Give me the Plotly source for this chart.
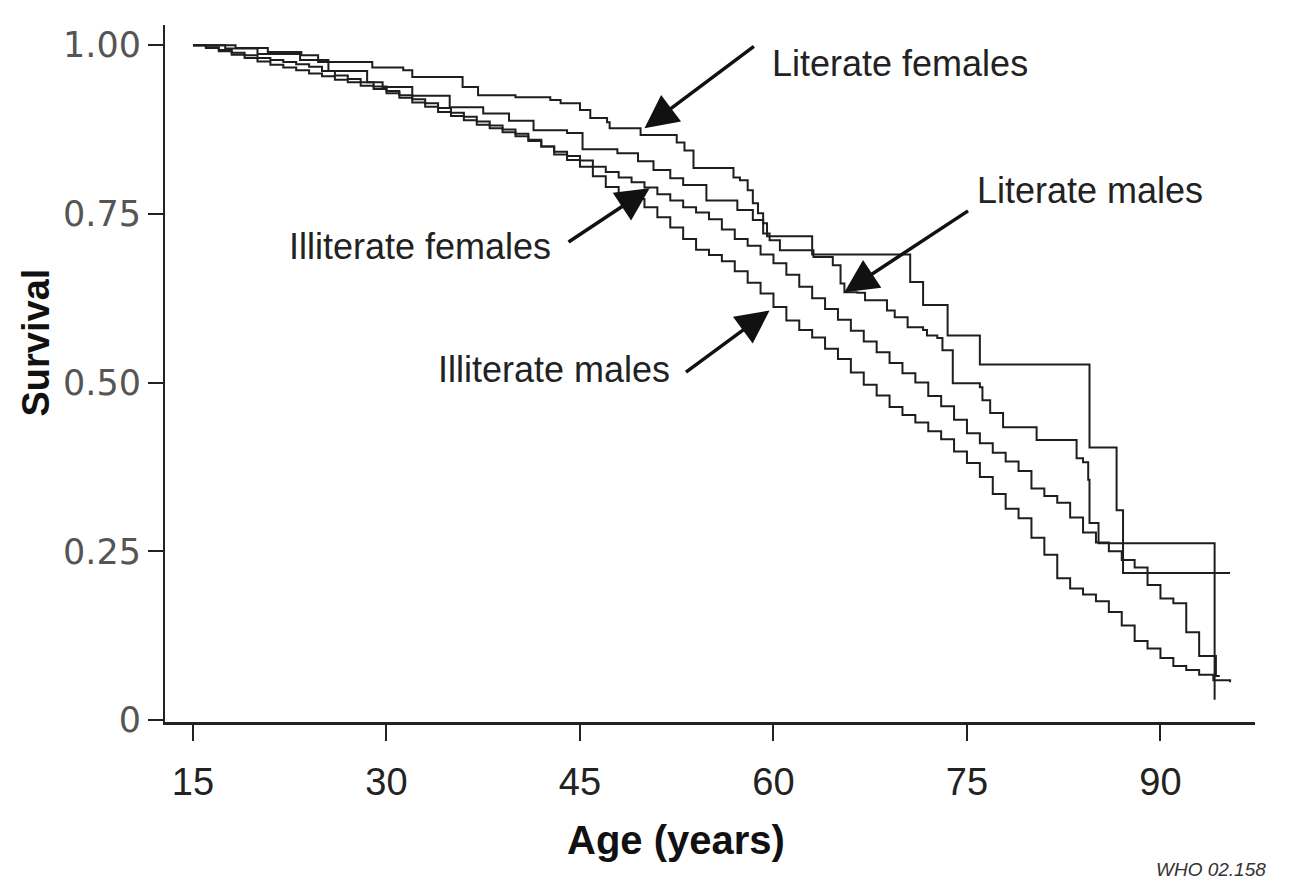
import plotly.graph_objects as go

# ---- data (age in years, survival proportion) ----
lit_f_age = [15, 18.3, 20.8, 23.4, 24.7, 28.9, 31.3, 32.0, 35.9, 37.1, 40.0, 42.7, 43.5, 45.0,
             45.8, 47.1, 47.3, 49.7, 52.5, 53.1, 53.8, 56.9, 57.4, 58.0, 58.4, 58.8, 59.2, 59.5,
             63.0, 70.6, 71.6, 73.5, 76.0, 84.5, 86.6, 87.1, 95.4]
lit_f_surv = [1.000, 0.996, 0.990, 0.985, 0.975, 0.967, 0.963, 0.953, 0.938, 0.926, 0.923, 0.919,
              0.914, 0.904, 0.892, 0.886, 0.877, 0.867, 0.856, 0.844, 0.818, 0.804, 0.800, 0.785,
              0.766, 0.751, 0.736, 0.717, 0.690, 0.649, 0.615, 0.570, 0.527, 0.404, 0.311, 0.218,
              0.218]

lit_m_age = [15, 17.5, 20, 23.3, 25.5, 28.5, 29.7, 32, 34.9, 37.5, 39.5, 41.4, 44.0, 45.2, 47.9,
             49.5, 50.7, 52, 53.0, 54.8, 57.2, 58.4, 59.2, 59.7, 60.5, 63.1, 64.6, 65.2, 65.5,
             66.5, 67.1, 68.8, 69.4, 70.4, 71.6, 71.9, 72.7, 73.1, 73.9, 76.0, 76.2, 76.8, 77.8,
             80.4, 83.5, 84.0, 84.4, 84.5, 85.2, 94.2]
lit_m_surv = [1.000, 0.995, 0.987, 0.978, 0.962, 0.945, 0.938, 0.925, 0.908, 0.899, 0.888, 0.874,
              0.870, 0.846, 0.840, 0.828, 0.815, 0.803, 0.793, 0.770, 0.756, 0.741, 0.721, 0.711,
              0.696, 0.686, 0.674, 0.647, 0.634, 0.633, 0.622, 0.607, 0.597, 0.582, 0.578, 0.570,
              0.566, 0.548, 0.499, 0.493, 0.474, 0.455, 0.434, 0.415, 0.388, 0.382, 0.356, 0.292,
              0.262, 0.030]

illit_f_age = [15, 16, 17, 18, 19, 20, 21, 22, 23, 24, 25, 26, 27, 28, 29, 30, 31, 32, 33, 34, 35,
               36, 37, 38, 39, 40, 41, 42, 43, 44, 45, 46, 47, 48, 49, 50, 51, 52, 53, 54, 55, 56,
               57, 58, 59, 60, 61, 62, 63, 64, 65, 66, 67, 68, 69, 70, 71, 72, 73, 74, 75, 76, 77,
               78, 79, 80, 81, 82, 83, 84, 85, 86, 87, 88, 89, 90, 91, 92, 93, 94.3, 94.6]
illit_f_surv = [1.000, 0.997, 0.993, 0.989, 0.985, 0.981, 0.978, 0.975, 0.972, 0.968, 0.962, 0.955,
                0.950, 0.945, 0.939, 0.932, 0.926, 0.920, 0.914, 0.907, 0.900, 0.894, 0.887, 0.881,
                0.875, 0.869, 0.860, 0.850, 0.842, 0.836, 0.829, 0.820, 0.812, 0.804, 0.797, 0.789,
                0.779, 0.770, 0.760, 0.752, 0.742, 0.727, 0.713, 0.703, 0.690, 0.677, 0.660, 0.642,
                0.625, 0.609, 0.593, 0.577, 0.561, 0.545, 0.529, 0.514, 0.500, 0.480, 0.465, 0.445,
                0.425, 0.410, 0.396, 0.383, 0.369, 0.343, 0.332, 0.322, 0.300, 0.278, 0.263, 0.250,
                0.237, 0.226, 0.200, 0.180, 0.173, 0.130, 0.095, 0.065, 0.065]

illit_m_age = [15, 16, 17, 18, 19, 20, 21, 22, 23, 24, 25, 26, 27, 28, 29, 30, 31, 32, 33, 34, 35,
               36, 37, 38, 39, 40, 41, 42, 43, 44, 45, 46, 47, 48, 49, 50, 51, 52, 53, 54, 55, 56,
               57, 58, 59, 60, 61, 62, 63, 64, 65, 66, 67, 68, 69, 70, 71, 72, 73, 74, 75, 76, 77,
               78, 79, 80, 81, 82, 83, 84, 85, 86, 87, 88, 89, 90, 91, 92, 93, 94.1, 95.4]
illit_m_surv = [1.000, 0.996, 0.991, 0.986, 0.981, 0.976, 0.971, 0.967, 0.963, 0.958, 0.954, 0.949,
                0.945, 0.940, 0.935, 0.929, 0.922, 0.915, 0.909, 0.901, 0.895, 0.889, 0.882, 0.877,
                0.871, 0.865, 0.858, 0.850, 0.838, 0.830, 0.820, 0.806, 0.790, 0.780, 0.772, 0.760,
                0.745, 0.730, 0.713, 0.697, 0.689, 0.680, 0.665, 0.648, 0.632, 0.612, 0.592, 0.578,
                0.567, 0.550, 0.535, 0.515, 0.497, 0.481, 0.464, 0.452, 0.441, 0.428, 0.416, 0.398,
                0.381, 0.360, 0.335, 0.313, 0.299, 0.270, 0.245, 0.210, 0.195, 0.186, 0.176, 0.160,
                0.140, 0.117, 0.106, 0.092, 0.080, 0.074, 0.067, 0.059, 0.056]

x_ticks = [15, 30, 45, 60, 75, 90]
y_ticks = [0, 0.25, 0.50, 0.75, 1.00]
y_tick_labels = ["0", "0.25", "0.50", "0.75", "1.00"]

# label text, text anchor (age, surv), arrow tail (age, surv), arrow tip (age, surv)
labels = ["Literate females", "Literate males", "Illiterate females", "Illiterate males"]
label_pos = [(59.7, 0.973), (75.6, 0.785), (22.3, 0.701), (33.8, 0.519)]
arrow_tail = [(58.6, 1.000), (75.2, 0.756), (44.0, 0.707), (53.1, 0.514)]
arrow_tip = [(50.0, 0.877), (65.5, 0.634), (50.4, 0.788), (59.7, 0.607)]

LINE = "#1e1e1e"
NARROW = "Liberation Sans Narrow, Arial Narrow, sans-serif"

fig = go.Figure()
for name, xs, ys in [("Literate females", lit_f_age, lit_f_surv),
                     ("Literate males", lit_m_age, lit_m_surv),
                     ("Illiterate females", illit_f_age, illit_f_surv),
                     ("Illiterate males", illit_m_age, illit_m_surv)]:
    fig.add_trace(go.Scatter(x=xs, y=ys, mode="lines", name=name,
                             line=dict(color=LINE, width=2, shape="hv"),
                             showlegend=False, hoverinfo="x+y+name"))

annotations = []
for txt, (tx, ty), (ax, ay), (hx, hy) in zip(labels, label_pos, arrow_tail, arrow_tip):
    annotations.append(dict(x=hx, y=hy, ax=ax, ay=ay, xref="x", yref="y", axref="x", ayref="y",
                            text="", showarrow=True, arrowhead=2, arrowsize=1.9,
                            arrowwidth=3.5, arrowcolor="#111"))
    annotations.append(dict(x=tx, y=ty, xref="x", yref="y", text=txt, showarrow=False,
                            xanchor="left", yanchor="middle",
                            font=dict(family=NARROW, size=36, color="#222")))

# axis titles (placed as in the reference)
annotations.append(dict(x=0.469, y=-0.17, xref="paper", yref="paper",
                        text="<b>Age (years)</b>", showarrow=False,
                        xanchor="center", yanchor="middle",
                        font=dict(family=NARROW, size=40, color="#111")))
annotations.append(dict(x=-0.118, y=0.545, xref="paper", yref="paper",
                        text="<b>Survival</b>", showarrow=False, textangle=-90,
                        xanchor="center", yanchor="middle",
                        font=dict(family=NARROW, size=38, color="#111")))
annotations.append(dict(x=1.012, y=-0.212, xref="paper", yref="paper", text="<i>WHO 02.158</i>",
                        showarrow=False, xanchor="right", yanchor="middle",
                        font=dict(family="Liberation Sans, Arial, sans-serif", size=19,
                                  color="#333")))

fig.update_layout(
    width=1281, height=876,
    margin=dict(l=157, r=34, t=17, b=162),
    paper_bgcolor="white", plot_bgcolor="white",
    annotations=annotations,
    xaxis=dict(range=[12.83, 97.33], tickvals=x_ticks, ticks="outside", ticklen=16,
               tickwidth=2, tickcolor="#222", showline=True, linecolor="#222", linewidth=3,
               showgrid=False, zeroline=False,
               tickfont=dict(family=NARROW, size=38, color="#222"),
               ticklabelstandoff=8),
    yaxis=dict(range=[-0.003, 1.03], tickvals=y_ticks, ticktext=y_tick_labels,
               ticks="outside", ticklen=15, tickwidth=2, tickcolor="#222",
               showline=True, linecolor="#222", linewidth=2, showgrid=False, zeroline=False,
               tickfont=dict(family="DejaVu Sans, sans-serif", size=35, color="#555")),
)

fig.write_html("out.html")
